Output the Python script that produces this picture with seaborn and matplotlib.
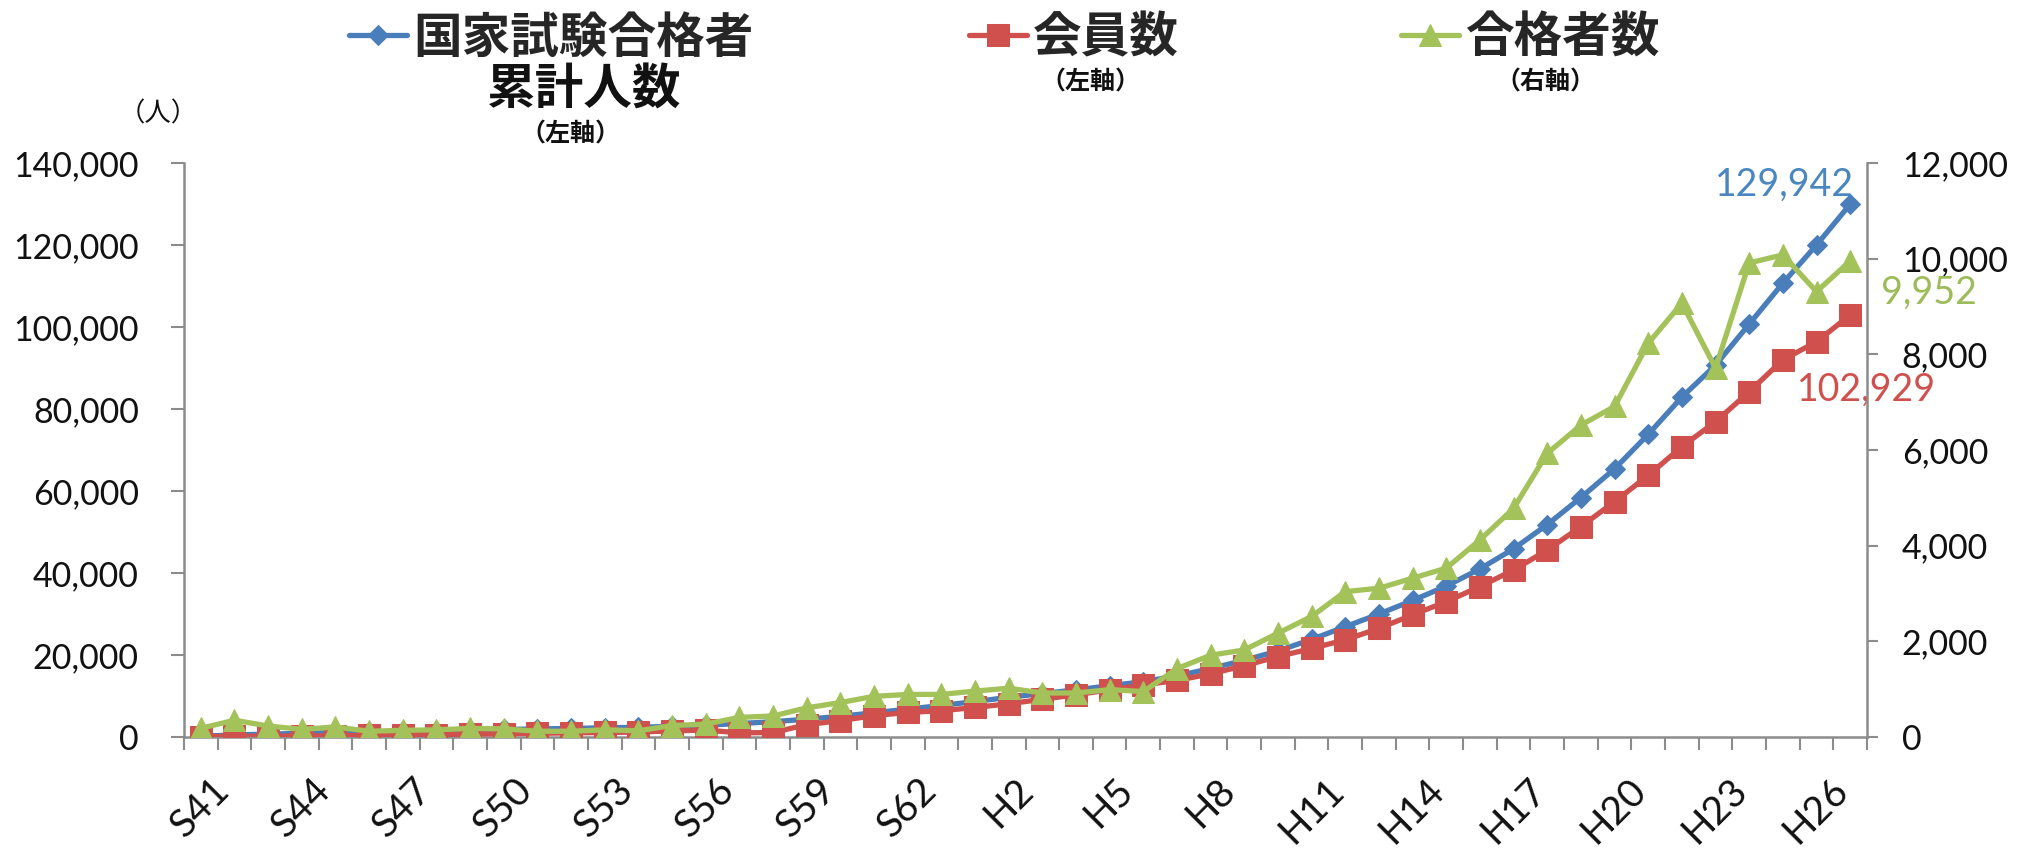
import pandas as pd
import matplotlib.pyplot as plt
import seaborn as sns
from matplotlib.ticker import FuncFormatter, FixedLocator

sns.set_theme(style="white")
plt.rcParams["font.family"] = ["Lato", "Noto Sans CJK JP", "DejaVu Sans"]

# -------- data --------
years = ["S41", "S42", "S43", "S44", "S45", "S46", "S47", "S48", "S49", "S50",
         "S51", "S52", "S53", "S54", "S55", "S56", "S57", "S58", "S59", "S60",
         "S61", "S62", "S63", "H1", "H2", "H3", "H4", "H5", "H6", "H7",
         "H8", "H9", "H10", "H11", "H12", "H13", "H14", "H15", "H16", "H17",
         "H18", "H19", "H20", "H21", "H22", "H23", "H24", "H25", "H26", "H27"]

cumulative = [180, 500, 720, 880, 1090, 1210, 1350, 1500, 1680, 1850,
              1970, 2090, 2240, 2370, 2610, 2880, 3290, 3730, 4340, 5060,
              5910, 6800, 7690, 8650, 9670, 10600, 11500, 12500, 13500, 14900,
              16700, 18700, 21000, 23800, 26900, 30000, 33300, 36800, 41000, 45900,
              51800, 58400, 65400, 73800, 82900, 90700, 100700, 110700, 120000, 129942]

members = [110, 150, 200, 250, 300, 400, 500, 600, 700, 800,
           900, 1000, 1100, 1200, 1500, 1700, 1000, 1100, 3000, 4000,
           5200, 6000, 6400, 7200, 8100, 9200, 10300, 11500, 12700, 13800,
           15400, 17400, 19600, 21600, 23700, 26500, 29800, 33000, 36700, 40700,
           45600, 51300, 57400, 63800, 70800, 76900, 84200, 92000, 96400, 102929]

passers = [183, 350, 230, 160, 210, 120, 140, 150, 180, 170,
           120, 120, 150, 130, 240, 270, 410, 440, 610, 720,
           850, 890, 890, 960, 1020, 920, 920, 990, 950, 1430,
           1710, 1820, 2170, 2520, 3040, 3110, 3320, 3530, 4120, 4780,
           5930, 6520, 6910, 8230, 9070, 7710, 9910, 10080, 9310, 9952]

BLUE = "#4a7ebb"
RED = "#d0504d"
GREEN = "#a4c25a"
AXIS = "#8c8c8c"

df = pd.DataFrame({"idx": range(len(years)), "year": years,
                   "cumulative": cumulative, "members": members, "passers": passers})

fig = plt.figure(figsize=(20.25, 8.5), dpi=100)
ax = fig.add_axes([184 / 2025, 1 - 737 / 850, (1867 - 184) / 2025, (737 - 163) / 850])
ax2 = ax.twinx()

sns.lineplot(data=df, x="idx", y="cumulative", ax=ax, color=BLUE, linewidth=3.8,
             marker="D", markersize=10.5, markeredgecolor=BLUE, zorder=3)
sns.lineplot(data=df, x="idx", y="members", ax=ax, color=RED, linewidth=3.8,
             marker="s", markersize=15.5, markeredgecolor=RED, zorder=4)
sns.lineplot(data=df, x="idx", y="passers", ax=ax2, color=GREEN, linewidth=3.8,
             marker="^", markersize=16, markeredgecolor=GREEN, zorder=5)

# -------- axes --------
ax.set_xlim(-0.5, len(years) - 0.5)
ax.set_ylim(0, 140000)
ax2.set_ylim(0, 12000)
ax.set_xlabel("")
ax.set_ylabel("")
ax2.set_ylabel("")

ax.set_yticks(range(0, 140001, 20000))
ax2.set_yticks(range(0, 12001, 2000))
comma = FuncFormatter(lambda v, p: f"{int(v):,}")
ax.yaxis.set_major_formatter(comma)
ax2.yaxis.set_major_formatter(comma)

ax.set_xticks(df["idx"][::3])
ax.set_xticklabels(years[::3], rotation=45, ha="center", va="top")
ax.xaxis.set_minor_locator(FixedLocator([i - 0.5 for i in range(len(years) + 1)]))

ax.tick_params(axis="x", which="major", length=0, pad=25, labelsize=28, labelcolor="#111111")
ax.tick_params(axis="x", which="minor", direction="out", length=9.5, width=1.5, color=AXIS, bottom=True)
ax.tick_params(axis="y", direction="out", length=9.5, width=1.5, color=AXIS, pad=23,
               labelsize=24.5, labelcolor="#111111", left=True)
ax2.tick_params(axis="y", direction="out", length=8, width=1.5, color=AXIS, pad=17,
                labelsize=24.5, labelcolor="#111111", right=True)

for a in (ax, ax2):
    for side in a.spines:
        a.spines[side].set_visible(False)
ax.spines["left"].set_visible(True)
ax.spines["bottom"].set_visible(True)
ax2.spines["right"].set_visible(True)
for sp in (ax.spines["left"], ax.spines["bottom"], ax2.spines["right"]):
    sp.set_color(AXIS)
    sp.set_linewidth(1.8)
ax.grid(False)
ax2.grid(False)

# -------- data labels on the last point --------
last = len(years) - 1
ax.annotate(f"{cumulative[-1]:,}", xy=(last, cumulative[-1]), xytext=(4, 20),
            textcoords="offset pixels", ha="right", va="center", fontsize=27, color="#4a86c0")
ax.annotate(f"{members[-1]:,}", xy=(last, members[-1]), xytext=(16, -75),
            textcoords="offset pixels", ha="center", va="center", fontsize=27, color="#d0504d")
ax2.annotate(f"{passers[-1]:,}", xy=(last, passers[-1]), xytext=(31, -32),
             textcoords="offset pixels", ha="left", va="center", fontsize=27, color="#9cbb59")

# -------- legend along the top --------
jp = ["Noto Sans CJK JP", "DejaVu Sans"]
h_blue, h_red = ax.get_lines()[0], ax.get_lines()[1]
h_green = ax2.get_lines()[0]
legend_items = [(h_blue, "国家試験合格者", 349), (h_red, "会員数", 969), (h_green, "合格者数", 1401)]
for handle, label, x in legend_items:
    fig.legend(handles=[handle], labels=[label], loc="center left",
               bbox_to_anchor=(x / 2025, 1 - 38 / 850), frameon=False,
               borderpad=0, borderaxespad=0, handlelength=1.2, handletextpad=0.12,
               prop={"family": jp, "size": 35, "weight": "bold"})

fig.text(584 / 2025, 1 - 90 / 850, "累計人数", ha="center", va="center",
         fontsize=35, fontweight="bold", family=jp, color="#111111")
fig.text(570 / 2025, 1 - 134 / 850, "（左軸）", ha="center", va="center",
         fontsize=18, fontweight="bold", family=jp, color="#111111")
fig.text(1090 / 2025, 1 - 82 / 850, "（左軸）", ha="center", va="center",
         fontsize=18, fontweight="bold", family=jp, color="#111111")
fig.text(1545 / 2025, 1 - 82 / 850, "（右軸）", ha="center", va="center",
         fontsize=18, fontweight="bold", family=jp, color="#111111")
fig.text(158 / 2025, 1 - 114 / 850, "（人）", ha="center", va="center",
         fontsize=19, family=jp, color="#111111")

fig.savefig("out.png", dpi=100)
